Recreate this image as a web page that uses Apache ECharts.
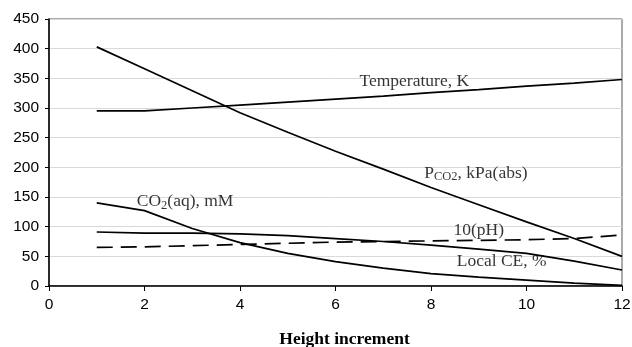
<!DOCTYPE html>
<html><head><meta charset="utf-8">
<script src="https://cdn.jsdelivr.net/npm/echarts@6/dist/echarts.min.js"></script>
<style>html,body{margin:0;padding:0;background:#fff}#c{width:632px;height:347px}</style>
</head><body><div id="c"></div>
<script>
const xVals = [1,2,3,4,5,6,7,8,9,10,11,12];
const temperature = [295,295,300,305,310,315,320,326,331,337,342,348];
const pco2 = [403,366,329,292,259,227,197,166,137,108,80,50];
const co2aq = [140,127,97,73,55,41,30,21,15,10,5,1];
const localCE = [91,89,89,88,85,80,75,69,62,55,42,27];
const pH10 = [65,66,68,70,72,74,75,76,77,78,80,86];
const xTicks = [0,2,4,6,8,10,12];
const yTicks = [0,50,100,150,200,250,300,350,400,450];
const annotations = [
  {x:7.65, y:344, text:'Temperature, K'},
  {x:8.94, y:190, text:'P{sub|CO2}, kPa(abs)'},
  {x:2.85, y:142, text:'CO{sub|2}(aq), mM'},
  {x:9.0, y:94, text:'10(pH)'},
  {x:9.48, y:42, text:'Local CE, %'}
];
const pair = arr => xVals.map((x,i)=>[x,arr[i]]);
const lineBase = {type:'line', symbol:'none', smooth:false, lineStyle:{color:'#000', width:1.7}, z:3};
const chart = echarts.init(document.getElementById('c'));
chart.setOption({
  animation:false,
  grid:{left:49, right:10, top:19, bottom:61, show:true, borderColor:'#555', borderWidth:1,
    containLabel:false, outerBoundsMode:'none'},
  xAxis:{type:'value', min:xTicks[0], max:xTicks[xTicks.length-1], interval:2,
    name:'Height increment', nameLocation:'middle', nameGap:44,
    nameTextStyle:{fontFamily:'Liberation Serif', fontWeight:'bold', fontSize:17.5, color:'#000', padding:[0,0,0,18]},
    axisLine:{show:true, onZero:false, lineStyle:{color:'#000', width:1.5}},
    axisTick:{show:true, length:5, lineStyle:{color:'#000'}},
    axisLabel:{fontFamily:'Liberation Sans', fontSize:15.5, color:'#000', margin:11},
    splitLine:{show:false}},
  yAxis:{type:'value', min:yTicks[0], max:yTicks[yTicks.length-1], interval:50,
    axisLine:{show:true, lineStyle:{color:'#000', width:1.5}},
    axisTick:{show:true, length:4, lineStyle:{color:'#000'}},
    axisLabel:{fontFamily:'Liberation Sans', fontSize:15.5, color:'#000', margin:10},
    splitLine:{show:true, lineStyle:{color:'#d9d9d9', width:1}}},
  series:[
    Object.assign({}, lineBase, {name:'Temperature', data:pair(temperature)}),
    Object.assign({}, lineBase, {name:'PCO2', data:pair(pco2)}),
    Object.assign({}, lineBase, {name:'CO2aq', data:pair(co2aq)}),
    Object.assign({}, lineBase, {name:'LocalCE', data:pair(localCE)}),
    Object.assign({}, lineBase, {name:'pH', data:pair(pH10), lineStyle:{color:'#000', width:1.7, type:[16,8]}}),
    {type:'scatter', symbolSize:0, z:5, silent:true,
     data:annotations.map(a=>({value:[a.x,a.y], label:{formatter:a.text}})),
     label:{show:true, position:'inside', color:'#000', fontFamily:'Liberation Serif', fontSize:17.5,
       rich:{sub:{fontFamily:'Liberation Serif', fontSize:12.5, verticalAlign:'bottom', padding:[7,0,0,0], color:'#000'}}}}
  ]
});
</script></body></html>
